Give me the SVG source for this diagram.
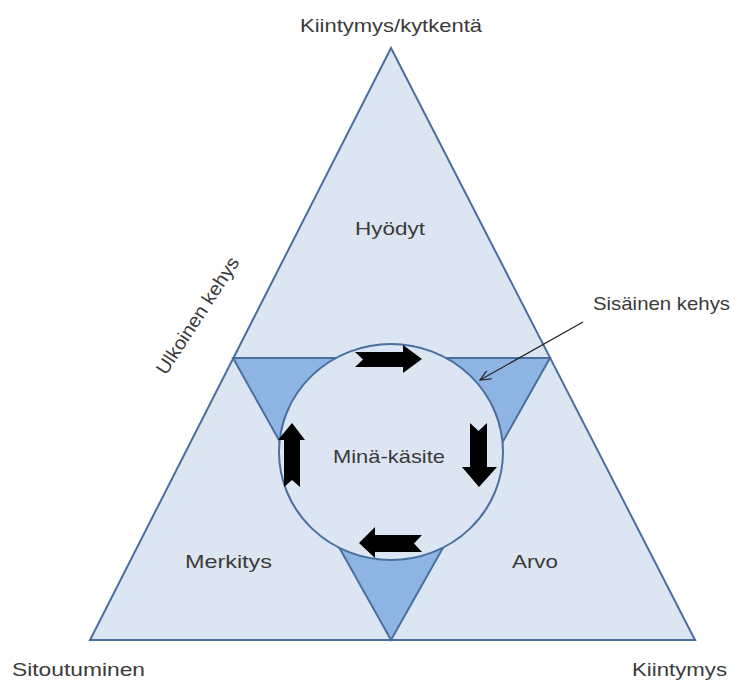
<svg xmlns="http://www.w3.org/2000/svg" width="735" height="686" viewBox="0 0 735 686">
<defs>
<style>
.t{font-family:"Liberation Sans","DejaVu Sans",sans-serif;font-size:19px;fill:#3a3a3a}
.edge{stroke:#4a6f9e;stroke-width:2;stroke-linejoin:miter}
.light{fill:#dce6f2}
.dark{fill:#8eb4e3}
.arr{fill:#000}
</style>
<marker id="ah" viewBox="0 0 12 10" refX="11" refY="5" markerWidth="12" markerHeight="10" markerUnits="userSpaceOnUse" orient="auto">
<path d="M0,0 L11,5 L0,10" fill="none" stroke="#222" stroke-width="1.2"/>
</marker>
</defs>
<rect width="735" height="686" fill="#fff"/>
<g id="outer">
<polygon class="light edge" points="391,48 90,640 695,640"/>
</g>
<g id="inner">
<polygon class="dark edge" points="233,358 550,358 391,640"/>
</g>
<g id="circle">
<ellipse class="light edge" cx="391" cy="452" rx="112" ry="108"/>
</g>
<g id="cycle-arrows">
<polygon class="arr" points="355,352 403,352 403,345 422,359 403,373 403,367 355,367 363,359.5"/>
<polygon class="arr" points="470,423 478.5,431 487,423 487,467 497,467 479,487 462,467 470,467"/>
<polygon class="arr" points="359,543 375,527 375,535 422,535 414,543.5 422,552 375,552 375,558"/>
<polygon class="arr" points="292,423 305,440 300,440 300,487 292,480 284,487 284,440 278,440"/>
</g>
<g id="connectors">
<line x1="583" y1="322" x2="480" y2="380" stroke="#222" stroke-width="1.2" marker-end="url(#ah)"/>
</g>
<g id="labels">
<text class="t" x="300" y="32" textLength="182" lengthAdjust="spacingAndGlyphs">Kiintymys/kytkentä</text>
<text class="t" x="355" y="235" textLength="70" lengthAdjust="spacingAndGlyphs">Hyödyt</text>
<text class="t" transform="translate(203,319) rotate(-57)" x="-68" y="0" textLength="136" lengthAdjust="spacingAndGlyphs">Ulkoinen kehys</text>
<text class="t" x="593" y="310" textLength="137" lengthAdjust="spacingAndGlyphs">Sisäinen kehys</text>
<text class="t" x="333" y="463" textLength="112" lengthAdjust="spacingAndGlyphs">Minä-käsite</text>
<text class="t" x="185" y="568" textLength="87" lengthAdjust="spacingAndGlyphs">Merkitys</text>
<text class="t" x="512" y="568" textLength="46" lengthAdjust="spacingAndGlyphs">Arvo</text>
<text class="t" x="12" y="676" textLength="133" lengthAdjust="spacingAndGlyphs">Sitoutuminen</text>
<text class="t" x="632" y="676" textLength="95" lengthAdjust="spacingAndGlyphs">Kiintymys</text>
</g>
</svg>
